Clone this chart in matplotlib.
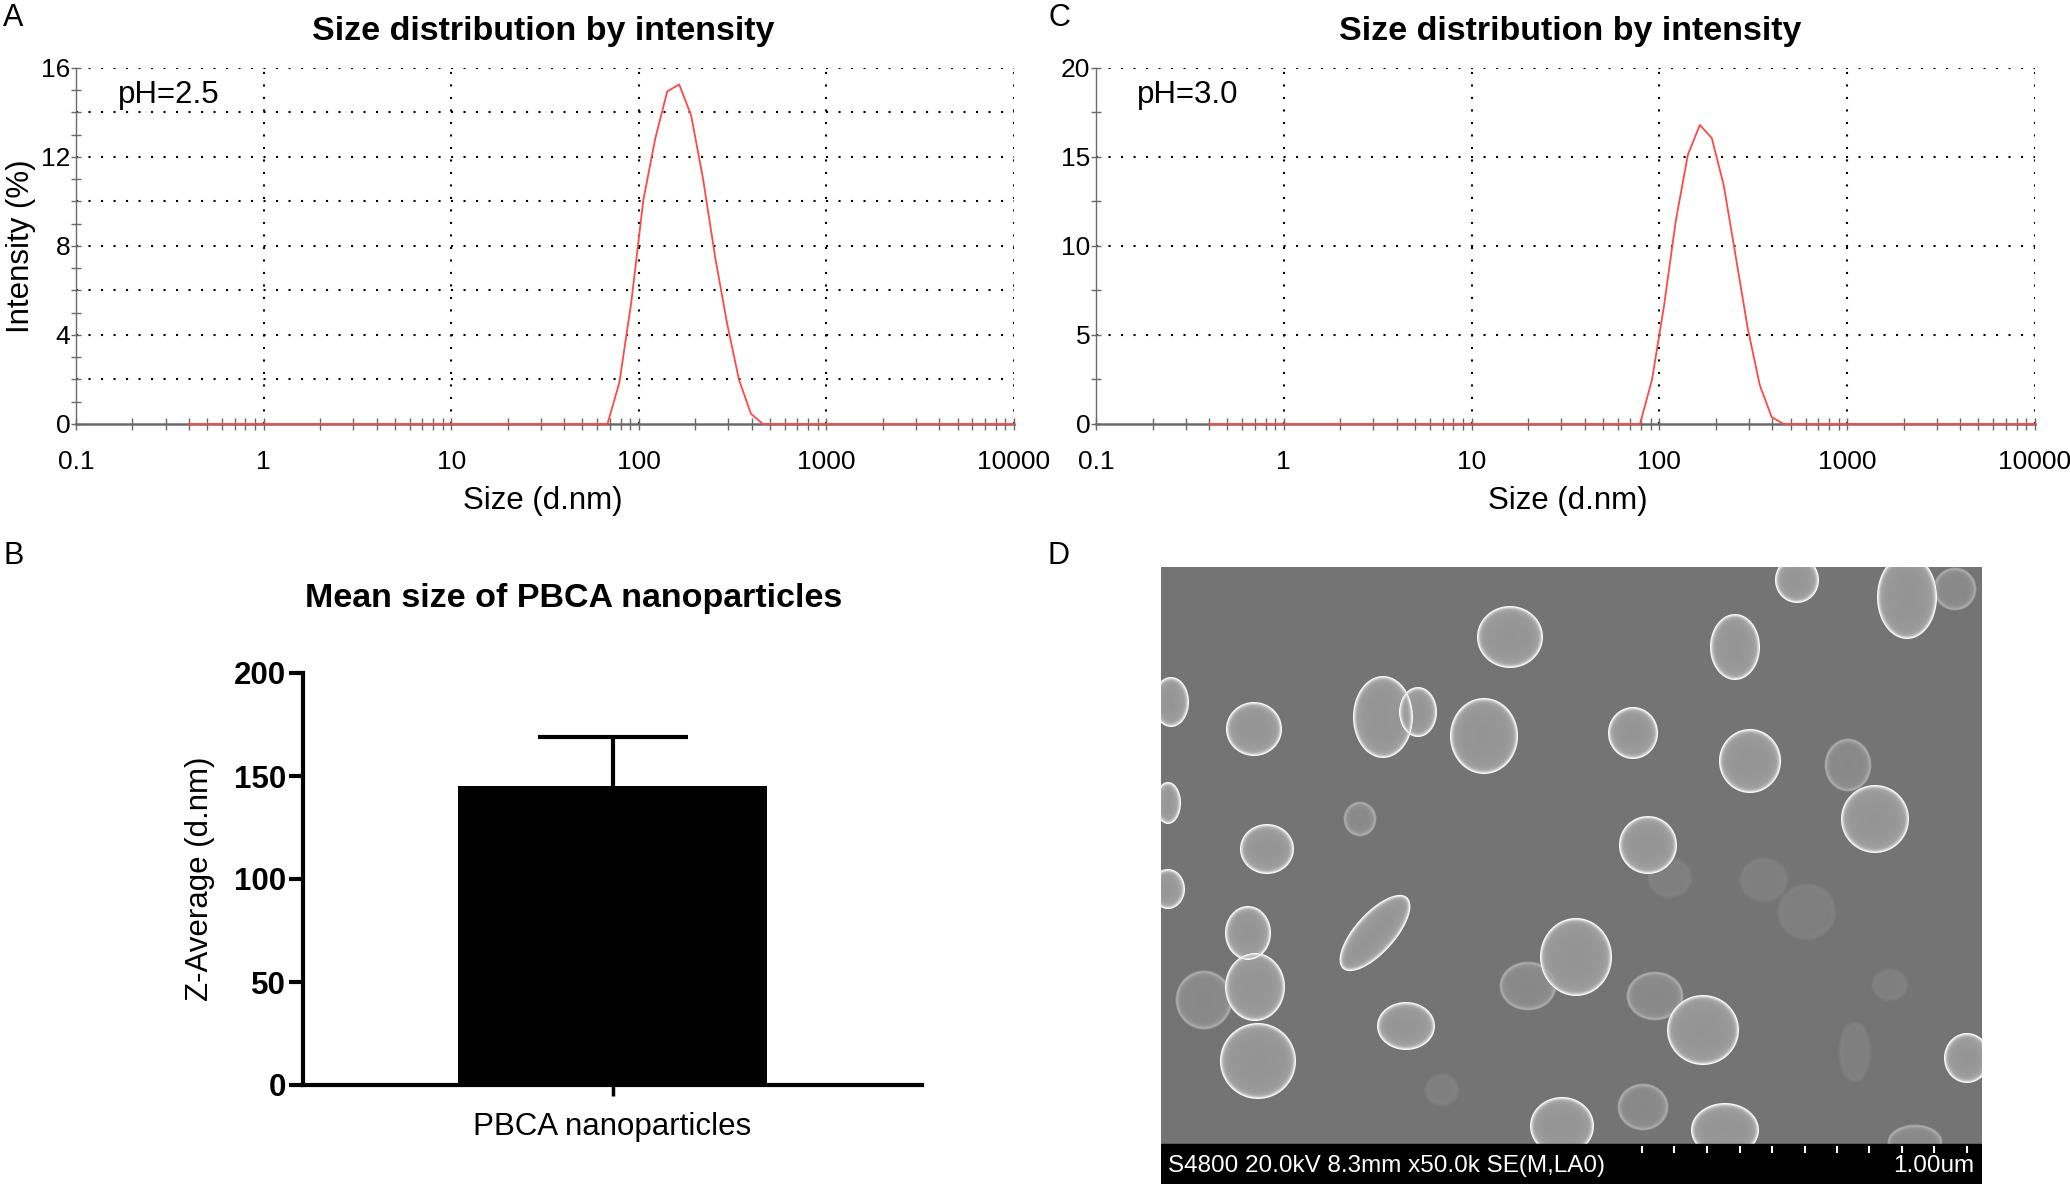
import numpy as np
import matplotlib
matplotlib.use('Agg')
import matplotlib.pyplot as plt
from matplotlib.ticker import FixedLocator, LogLocator, NullFormatter, MultipleLocator
from matplotlib.patches import Rectangle

plt.rcParams['font.family'] = ['Liberation Sans', 'DejaVu Sans']

# DLS size classes (d.nm)
sizes = [0.4000, 0.4632, 0.5365, 0.6213, 0.7195, 0.8332, 0.9649, 1.117, 1.294, 1.499,
         1.736, 2.010, 2.328, 2.696, 3.122, 3.615, 4.187, 4.849, 5.615, 6.503,
         7.531, 8.721, 10.10, 11.70, 13.54, 15.69, 18.17, 21.04, 24.36, 28.21,
         32.67, 37.84, 43.82, 50.75, 58.77, 68.06, 78.82, 91.28, 105.7, 122.4,
         141.8, 164.2, 190.1, 220.2, 255.0, 295.3, 342.0, 396.1, 458.7, 531.2,
         615.1, 712.4, 825.0, 955.4, 1106, 1281, 1484, 1718, 1990, 2305,
         2669, 3091, 3580, 4145, 4801, 5560, 6439, 7456, 8635, 10000]

# intensity (%) per size class
int_ph25 = ([0.0] * 36 +
            [1.87, 5.5, 10.06, 12.83, 14.95, 15.26, 13.87, 11.0, 7.52, 4.53, 1.99, 0.46] +
            [0.0] * 22)
int_ph30 = ([0.0] * 37 +
            [2.48, 6.6, 11.45, 15.13, 16.8, 16.06, 13.4, 9.4, 5.38, 2.2, 0.39] +
            [0.0] * 22)

decades = [0.1, 1, 10, 100, 1000, 10000]
decade_labels = ['0.1', '1', '10', '100', '1000', '10000']

# panel B
bar_label = ['PBCA nanoparticles']
z_mean = [145]
z_sd = [24]

# panel D: SEM micrograph particles (pixel coords in the image), kind b=bright, s=soft, f=faint
sem_x = [349, 574, 636, 746, 794, 10, 93, 222, 257, 323, 472, 589, 687, 714, 7, 199, 106,
         487, 509, 7, 214, 603, 646, 87, 94, 97, 43, 415, 367, 494, 542, 245, 729, 694,
         806, 401, 482, 564, 281, 754]
sem_y = [70, 80, 13, 30, 22, 135, 162, 150, 145, 169, 166, 194, 198, 252, 236, 252, 282,
         278, 311, 322, 366, 313, 345, 366, 420, 494, 433, 390, 419, 429, 463, 459, 418, 485,
         491, 559, 540, 563, 523, 575]
sem_rx = [33, 25, 22, 30, 21, 18, 28, 30, 19, 34, 25, 31, 23, 34, 13, 16, 27,
          29, 21, 17, 48, 23, 28, 23, 30, 38, 28, 36, 28, 28, 36, 29, 17, 15,
          23, 32, 25, 34, 16, 27]
sem_ry = [31, 33, 23, 42, 21, 25, 27, 41, 25, 38, 26, 32, 26, 34, 21, 17, 25,
          29, 19, 20, 20, 21, 27, 27, 34, 38, 29, 39, 24, 24, 35, 24, 15, 29,
          25, 29, 23, 27, 15, 17]
sem_ang = [0] * 20 + [132] + [0] * 19
sem_kind = ['b', 'b', 'b', 'b', 's', 'b', 'b', 'b', 'b', 'b', 'b', 'b', 's', 'b', 'b', 's', 'b',
            'b', 'f', 'b', 'b', 'f', 'f', 'b', 'b', 'b', 's', 'b', 's', 's', 'b', 'b', 'f', 'f',
            'b', 'b', 's', 'b', 'f', 's']
sem_info = 'S4800 20.0kV 8.3mm x50.0k SE(M,LA0)'
sem_scale = '1.00um'

W, H = 2070, 1186
fig = plt.figure(figsize=(W / 100, H / 100), dpi=100)


def box(l, t, r, b):
    return [l / W, 1 - b / H, (r - l) / W, (b - t) / H]


def ftext(x, y, s, **kw):
    fig.text(x / W, 1 - y / H, s, **kw)


GRAY = '#6a6a6a'
DOT = (0, (1, 5))


def dls_panel(rect, y, ymax, ymajor, yminor, ygrid):
    ax = fig.add_axes(rect)
    ax.set_xscale('log')
    ax.set_xlim(0.1, 10000)
    ax.set_ylim(0, ymax)
    for g in ygrid:
        ax.axhline(g, color='black', lw=1.5, ls=DOT, zorder=1)
    for g in decades[1:]:
        ax.axvline(g, color='black', lw=1.5, ls=DOT, zorder=1)
    ax.plot(sizes, y, color='#ff4848', lw=1.3, zorder=3, clip_on=False)
    for s in ['top', 'right']:
        ax.spines[s].set_visible(False)
    ax.spines['left'].set_color(GRAY)
    ax.spines['left'].set_linewidth(1.0)
    ax.spines['bottom'].set_color(GRAY)
    ax.spines['bottom'].set_linewidth(1.8)
    ax.xaxis.set_major_locator(FixedLocator(decades))
    ax.set_xticklabels(decade_labels)
    ax.xaxis.set_minor_locator(LogLocator(base=10, subs=range(2, 10), numticks=20))
    ax.xaxis.set_minor_formatter(NullFormatter())
    ax.yaxis.set_major_locator(MultipleLocator(ymajor))
    ax.yaxis.set_minor_locator(MultipleLocator(yminor))
    ax.tick_params(axis='x', which='both', direction='inout', length=8, width=1.0,
                   color=GRAY, labelsize=19, pad=15)
    ax.tick_params(axis='y', which='both', direction='inout', length=7, width=1.0,
                   color=GRAY, labelsize=19, pad=0.5)
    ax.set_facecolor('white')
    return ax


# ---- panel A
axa = dls_panel(box(76, 68, 1014, 424), int_ph25, 16, 4, 1, [2, 4, 6, 8, 10, 12, 14, 16])
ftext(3, 18, 'A', fontsize=22, ha='left', va='center')
ftext(543, 40, 'Size distribution by intensity', fontsize=24.5, fontweight='bold',
      ha='center', va='baseline')
ftext(118, 103, 'pH=2.5', fontsize=22.5, ha='left', va='baseline')
ftext(543, 509, 'Size (d.nm)', fontsize=22.5, ha='center', va='baseline')
ftext(21, 246, 'Intensity (%)', fontsize=22.5, ha='center', va='center', rotation=90)

# ---- panel C
axc = dls_panel(box(1096, 68, 2035, 424), int_ph30, 20, 5, 2.5, [5, 10, 15, 20])
ftext(1048, 18, 'C', fontsize=22, ha='left', va='center')
ftext(1570, 40, 'Size distribution by intensity', fontsize=24.5, fontweight='bold',
      ha='center', va='baseline')
ftext(1137, 103, 'pH=3.0', fontsize=22.5, ha='left', va='baseline')
ftext(1568, 509, 'Size (d.nm)', fontsize=22.5, ha='center', va='baseline')

# ---- panel B
axb = fig.add_axes(box(303, 673, 922, 1085))
xpos = np.arange(len(z_mean))
z_top = [m + s for m, s in zip(z_mean, z_sd)]
axb.bar(xpos, z_mean, width=1.0, color='black', zorder=2)
axb.vlines(xpos, z_mean, z_top, color='black', lw=3, zorder=3)
axb.plot(xpos, z_top, ls='none', marker='_', markersize=108, mew=3, color='black', zorder=3)
axb.set_xlim(-1, 1)
axb.set_ylim(0, 200)
for s in ['top', 'right']:
    axb.spines[s].set_visible(False)
for s in ['left', 'bottom']:
    axb.spines[s].set_linewidth(3)
axb.set_yticks([0, 50, 100, 150, 200])
axb.set_xticks(xpos)
axb.set_xticklabels(bar_label)
axb.tick_params(axis='y', length=10, width=3, labelsize=22.5, pad=2)
axb.tick_params(axis='x', length=8, width=2.5, labelsize=22.5, pad=11.5)
for t in axb.get_yticklabels():
    t.set_fontweight('bold')
ftext(3, 556, 'B', fontsize=22, ha='left', va='center')
ftext(574, 607, 'Mean size of PBCA nanoparticles', fontsize=24.5, fontweight='bold',
      ha='center', va='baseline')
ftext(200, 879, 'Z-Average (d.nm)', fontsize=22.5, ha='center', va='center', rotation=90)

# ---- panel D: SEM image rebuilt from the particle list
IW, IH = 821, 577
yy, xx = np.mgrid[0:IH, 0:IW] + 0.5
bg = 116.0
img = np.full((IH, IW), bg)
# interior, rim peak, edge softness, glow
levels = {'b': (148.0, 245.0, 1.0, 22.0), 's': (136.0, 178.0, 2.0, 8.0),
          'f': (127.0, 136.0, 5.0, 0.0)}
for cx, cy, rx, ry, ang, kind in zip(sem_x, sem_y, sem_rx, sem_ry, sem_ang, sem_kind):
    t = np.deg2rad(ang)
    dx = xx - cx
    dy = yy - cy
    u = (dx * np.cos(t) + dy * np.sin(t)) / rx
    v = (-dx * np.sin(t) + dy * np.cos(t)) / ry
    d = np.sqrt(u * u + v * v) + 1e-6
    g = np.sqrt((u / rx) ** 2 + (v / ry) ** 2) / d + 1e-9
    e = (1 - d) / g
    inner, rim, soft, glow = levels[kind]
    ei = np.clip(e, 0, None)
    val = inner + (rim - inner) * np.exp(-(ei / 2.2) ** 1.5) + glow * np.exp(-ei / 7.0)
    val = np.minimum(val, 250)
    cover = np.clip(e / soft + 0.5, 0, 1)
    img = np.maximum(img, bg + cover * (val - bg))

axd = fig.add_axes(box(1161, 567, 1982, 1184))
axd.imshow(img, cmap='gray', vmin=0, vmax=255, extent=(0, IW, IH, 0),
           interpolation='bilinear', aspect='auto')
axd.add_patch(Rectangle((0, IH), IW, 40, color='black'))
axd.set_xlim(0, IW)
axd.set_ylim(IH + 40, 0)
axd.axis('off')
scale_ticks = [481, 513, 546, 579, 611, 644, 676, 708, 741, 773, 806]
axd.vlines(scale_ticks, IH + 2, IH + 9, color='white', lw=1.5)
axd.text(7, IH + 22, sem_info, color='white', fontsize=17.5, ha='left', va='center')
axd.text(813, IH + 22, sem_scale, color='white', fontsize=17.5, ha='right', va='center')
ftext(1048, 556, 'D', fontsize=22, ha='left', va='center')

fig.savefig('out.png', dpi=100, facecolor='white')
